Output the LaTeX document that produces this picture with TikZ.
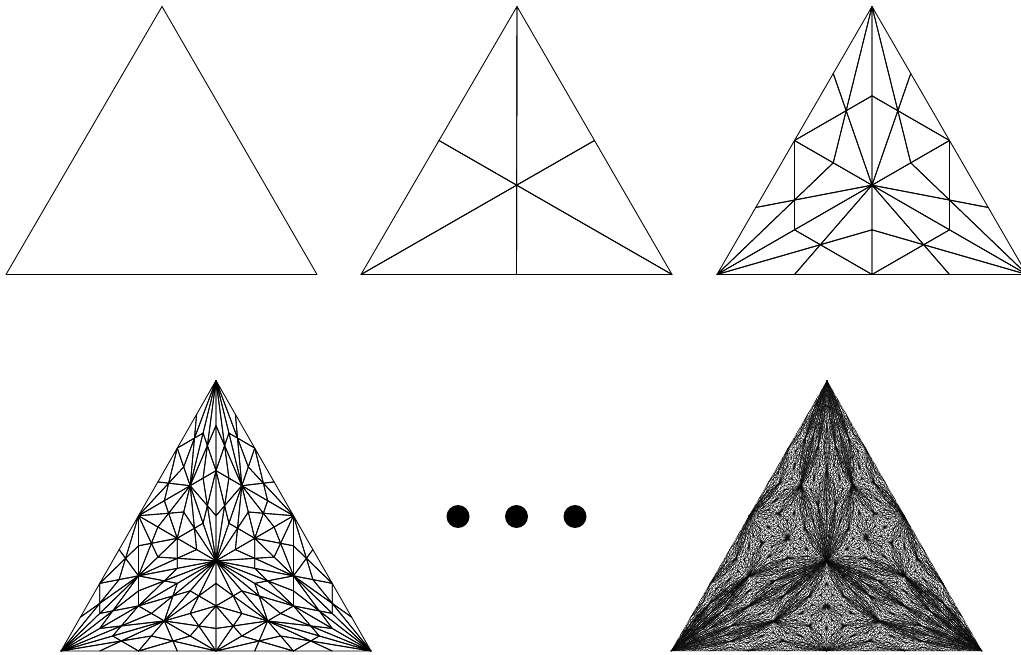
\documentclass[tikz,border=0pt]{standalone}
\makeatletter
% recursive barycentric subdivision (coordinates in sp); every leaf triangle is outlined,
% so inner edges are stroked twice and the outer boundary once
\def\BaTri#1#2#3#4#5#6#7{%
  \ifnum#7>0
    \edef\tgx{\the\numexpr(#1+#3+#5)/3\relax}%
    \edef\tgy{\the\numexpr(#2+#4+#6)/3\relax}%
    \edef\tabx{\the\numexpr(#1+#3)/2\relax}%
    \edef\taby{\the\numexpr(#2+#4)/2\relax}%
    \edef\tbcx{\the\numexpr(#3+#5)/2\relax}%
    \edef\tbcy{\the\numexpr(#4+#6)/2\relax}%
    \edef\tcax{\the\numexpr(#5+#1)/2\relax}%
    \edef\tcay{\the\numexpr(#6+#2)/2\relax}%
    \edef\tlev{\the\numexpr#7-1\relax}%
    \edef\tnext{%
      \noexpand\BaTri{#1}{#2}{\tabx}{\taby}{\tgx}{\tgy}{\tlev}%
      \noexpand\BaTri{#3}{#4}{\tabx}{\taby}{\tgx}{\tgy}{\tlev}%
      \noexpand\BaTri{#3}{#4}{\tbcx}{\tbcy}{\tgx}{\tgy}{\tlev}%
      \noexpand\BaTri{#5}{#6}{\tbcx}{\tbcy}{\tgx}{\tgy}{\tlev}%
      \noexpand\BaTri{#5}{#6}{\tcax}{\tcay}{\tgx}{\tgy}{\tlev}%
      \noexpand\BaTri{#1}{#2}{\tcax}{\tcay}{\tgx}{\tgy}{\tlev}%
    }%
    \expandafter\tnext
  \else
    \pgfpathmoveto{\pgfqpoint{#1sp}{#2sp}}%
    \pgfpathlineto{\pgfqpoint{#3sp}{#4sp}}%
    \pgfpathlineto{\pgfqpoint{#5sp}{#6sp}}%
    \pgfpathclose
    \pgfusepath{stroke}%
  \fi}
% whole triangle: left x, right x, apex x, base y, apex y (image pixels), level, line width
\def\BaWhole#1#2#3#4#5#6#7{%
  \begin{scope}[line width=#7,line join=round,line cap=round]
    \BaTri{\number\dimexpr#1pt\relax}{\number\dimexpr654pt-#4pt\relax}%
          {\number\dimexpr#2pt\relax}{\number\dimexpr654pt-#4pt\relax}%
          {\number\dimexpr#3pt\relax}{\number\dimexpr654pt-#5pt\relax}{#6}%
  \end{scope}}
\makeatother
\begin{document}
\begin{tikzpicture}[x=1pt,y=1pt,blackdot/.style={fill=black}]
  \useasboundingbox (0,0) rectangle (1021,654);
  \BaWhole{6}{317}{162}{274.5}{6.5}{0}{0.9pt}
  \BaWhole{361}{672}{517}{274.5}{6.5}{1}{0.9pt}
  \BaWhole{717}{1027}{872}{274.5}{6.5}{2}{0.9pt}
  \BaWhole{61}{371}{216}{651}{380.5}{3}{0.9pt}
  \BaWhole{671}{982}{827}{651}{380.5}{5}{0.12pt}
  \fill[blackdot] (458,137.5) circle (11.5);
  \fill[blackdot] (516.5,137.5) circle (11.5);
  \fill[blackdot] (575,137.5) circle (11.5);
\end{tikzpicture}
\end{document}
